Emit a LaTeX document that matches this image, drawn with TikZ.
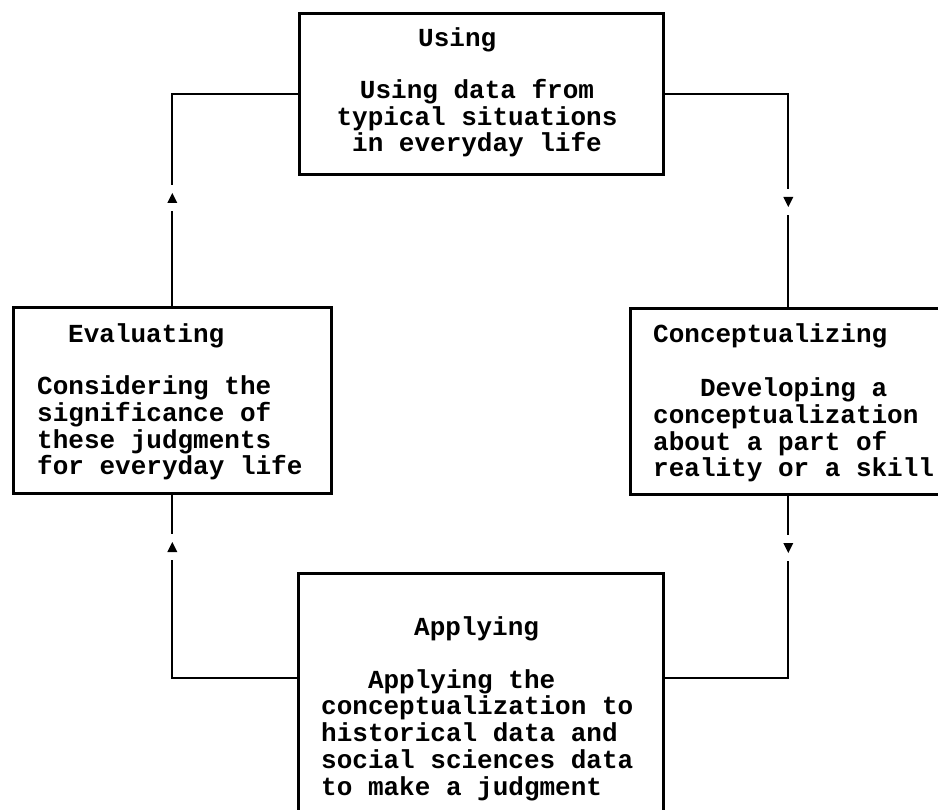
\documentclass[tikz,border=0pt]{standalone}
\usepackage{fontspec}
\setmainfont{Liberation Mono}
\begin{document}
\begin{tikzpicture}[x=1pt,y=-1pt,
  box/.style={draw, line width=2.6pt, rectangle, inner sep=0pt, anchor=north west},
  conn/.style={line width=2pt},
  txt/.style={inner sep=0pt, font=\bfseries\fontsize{26}{26.7}\selectfont},
  uparr/.pic={\fill[white] (-3,-13) rectangle (3,13); \fill (0,-5) -- (-5,5) -- (5,5) -- cycle;},
  downarr/.pic={\fill[white] (-3,-13) rectangle (3,13); \fill (0,5) -- (-5,-5) -- (5,-5) -- cycle;}]
\useasboundingbox[fill=white] (0,0) rectangle (938,810);
% boxes
\node[box, minimum width=364pt, minimum height=161pt] (using) at (298,12) {};
\node[box, minimum width=318pt, minimum height=186pt] (eval) at (12,306) {};
\node[box, minimum width=316pt, minimum height=186pt] (concept) at (629,307) {};
\node[box, minimum width=365pt, minimum height=260pt] (apply) at (297,572) {};
\coordinate (yl) at (0,678);
% connectors
\draw[conn] (using.west) -| (eval.north);
\draw[conn] (using.east) -| (concept.north);
\draw[conn] (eval.south) |- (apply.west |- yl);
\draw[conn] (concept.south) |- (apply.east |- yl);
% arrowheads
\path (eval.north |- 0,198) pic {uparr};
\path (concept.north |- 0,202) pic {downarr};
\path (eval.south |- 0,547) pic {uparr};
\path (concept.south |- 0,548) pic {downarr};
% texts (multi-line nodes: base = baseline of last line)
\node[txt, anchor=base west] (usingT) at (418,47) {Using};
\node[txt, anchor=base, align=center] (usingB) at (477,152) {Using data from\\typical situations\\in everyday life};
\node[txt, anchor=base west] (evalT) at (68,343) {Evaluating};
\node[txt, anchor=base west, align=left] (evalB) at (37,475) {Considering the\\significance of\\these judgments\\for everyday life};
\node[txt, anchor=base west] (conT) at (653,343) {Conceptualizing};
\node[txt, anchor=base west, align=left] (conB) at (653,477) {\phantom{xxx}Developing a\\conceptualization\\about a part of\\reality or a skill};
\node[txt, anchor=base west] (appT) at (414,635) {Applying};
\node[txt, anchor=base west, align=left] (appB) at (321,795) {\phantom{xxx}Applying the\\conceptualization to\\historical data and\\social sciences data\\to make a judgment};
\end{tikzpicture}
\end{document}
